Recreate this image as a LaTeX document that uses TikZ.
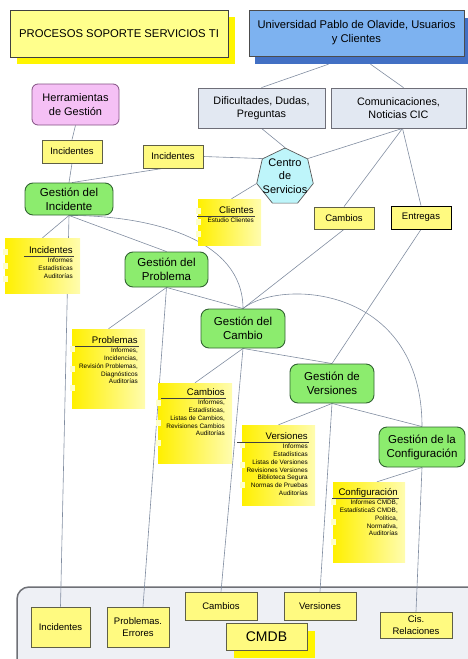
\documentclass[tikz,border=0pt]{standalone}
\usepackage{fontspec}
\setmainfont{Liberation Sans}
\usetikzlibrary{shapes.geometric}
\pgfdeclarelayer{back}
\pgfsetlayers{back,main}

\definecolor{lnc}{RGB}{128,140,160}
\definecolor{yfill}{RGB}{255,250,128}
\definecolor{ydraw}{RGB}{95,95,70}
\definecolor{gfill}{RGB}{140,236,110}
\definecolor{gdraw}{RGB}{50,100,50}
\definecolor{pfill}{RGB}{245,192,245}
\definecolor{pdraw}{RGB}{130,80,130}
\definecolor{bfill}{RGB}{226,232,242}
\definecolor{bdraw}{RGB}{110,110,120}
\definecolor{ufill}{RGB}{125,178,240}
\definecolor{ushadow}{RGB}{66,112,196}
\definecolor{tfill}{RGB}{255,255,140}
\definecolor{tshadow}{RGB}{255,245,0}
\definecolor{cfill}{RGB}{190,245,250}
\definecolor{panelfill}{RGB}{238,240,245}
\definecolor{paneldraw}{RGB}{110,112,118}
\definecolor{nleft}{RGB}{255,240,0}
\definecolor{nright}{RGB}{255,252,175}
\definecolor{holec}{RGB}{255,255,200}

\newcommand\fsz[2]{\fontsize{#1}{#2}\selectfont}

% yellow memo sheet: name, x1, y1, x2, y2, header baseline, header, body lines, rule start
\newcommand\notepad[9]{%
  \node[notebg, minimum width={#4-#2}, minimum height={#5-#3}] (#1) at ({(#2+#4)/2},{(#3+#5)/2}) {};
  \foreach \f in {0.25,0.5,0.75}
    \fill[holec] ({#2-2},{#3+\f*(#5-#3)-3}) rectangle ++(5,6);
  \node[notehead, anchor=base east] (#1h) at ({#4-7},#6) {#7};
  \draw[noterule] (#9,{#6+3}) -- ({#4-6},{#6+3});
  \node[notebody, anchor=north east] (#1b) at ({#4-7},{#6+4.5}) {#8};
}

\tikzset{
  conn/.style={draw=lnc, line width=0.6pt},
  box/.style={draw=ydraw, fill=yfill, line width=0.8pt, inner sep=1pt, align=center, font=\fsz{9.5}{12}},
  procbox/.style={draw=gdraw, fill=gfill, rounded corners=8pt, line width=0.9pt, inner sep=1pt, align=center, font=\fsz{11.5}{14}},
  toolbox/.style={draw=pdraw, fill=pfill, rounded corners=6pt, line width=0.8pt, inner sep=1pt, align=center, font=\fsz{11}{13.5}},
  infobox/.style={draw=bdraw, fill=bfill, line width=0.8pt, inner sep=1pt, align=center, font=\fsz{10.8}{13}},
  titlebox/.style={draw=black!75, fill=tfill, line width=0.8pt, inner sep=1pt, align=center, font=\fsz{11.3}{13}},
  univbox/.style={draw=black!70, fill=ufill, line width=0.8pt, inner sep=1pt, align=center, font=\fsz{11.2}{14}},
  shadowbox/.style={inner sep=0pt, draw=none},
  notebg/.style={inner sep=0pt, draw=none, left color=nleft, right color=nright},
  notehead/.style={inner sep=0pt, font=\fsz{9.6}{11}},
  notebody/.style={inner sep=0pt, align=right, font=\fsz{6.4}{7.9}},
  noterule/.style={draw=black!75, line width=0.6pt},
}

\begin{document}
\begin{tikzpicture}[x=1pt,y=-1pt]
\useasboundingbox (0,0) rectangle (468,659);

% ---- header boxes ----
\node[shadowbox, fill=tshadow, minimum width=218, minimum height=47] (titlesh) at (126,40.5) {};
\node[titlebox, minimum width=218, minimum height=47] (title) at (119,33.5) {PROCESOS SOPORTE SERVICIOS TI};
\node[shadowbox, fill=ushadow, minimum width=215, minimum height=46] (univsh) at (362.5,41) {};
\node[univbox, minimum width=215, minimum height=46] (univ) at (356.5,33) {Universidad Pablo de Olavide, Usuarios\\y Clientes};

\node[toolbox, minimum width=87, minimum height=41] (herr) at (75.5,104.5) {Herramientas\\de Gestión};
\node[infobox, minimum width=127, minimum height=40] (dif) at (261.5,108) {Dificultades, Dudas,\\Preguntas};
\node[infobox, minimum width=135, minimum height=40] (com) at (398.5,108) {Comunicaciones,\\Noticias CIC};

% ---- service desk ----
\node[regular polygon, regular polygon sides=7, minimum size=58, inner sep=0pt,
      draw=black!65, fill=cfill, line width=0.7pt] (centro) at (285,177) {};
\node[inner sep=0pt, align=center, font=\fsz{11}{13.5}] (centrolbl) at (285,176) {Centro\\de\\Servicios};

% ---- small flow labels ----
\node[box, minimum width=60, minimum height=23] (inc1) at (72,151.5) {Incidentes};
\node[box, minimum width=60, minimum height=23] (inc2) at (173,156.5) {Incidentes};
\node[box, minimum width=60, minimum height=22] (cambS) at (344,218) {Cambios};
\node[box, draw=black, minimum width=60, minimum height=23] (entr) at (421,217.5) {Entregas};

% ---- management processes ----
\node[procbox, minimum width=88, minimum height=32] (gi) at (69,199) {Gestión del\\Incidente};
\node[procbox, minimum width=83, minimum height=35] (gp) at (166.5,269.5) {Gestión del\\Problema};
\node[procbox, minimum width=84, minimum height=39] (gc) at (243,328.5) {Gestión del\\Cambio};
\node[procbox, minimum width=84, minimum height=39] (gv) at (332,383.5) {Gestión de\\Versiones};
\node[procbox, minimum width=86, minimum height=40] (gconf) at (422,447) {Gestión de la\\Configuración};

% ---- memo sheets ----
\notepad{clN}{198}{199}{261}{245}{213}{Clientes}{Estudio Clientes}{197}
\notepad{incN}{5}{238}{80}{293}{253}{Incidentes}{Informes\\Estadísticas\\Auditorías}{24}
\notepad{probN}{72}{329}{145}{408}{343}{Problemas}{Informes,\\Incidencias,\\Revisión Problemas,\\Diagnósticos\\Auditorías}{75}
\notepad{cambN}{158}{383}{232}{463}{395}{Cambios}{Informes,\\Estadísticas,\\Listas de Cambios,\\Revisiones Cambios\\Auditorías}{161}
\notepad{versN}{242}{425}{315}{505}{439}{Versiones}{Informes\\Estadísticas\\Listas de Versiones\\Revisiones Versiones\\Biblioteca Segura\\Normas de Pruebas\\Auditorías}{237}
\notepad{confN}{333}{482}{405}{562}{495}{Configuración}{Informes CMDB,\\EstadísticaS CMDB,\\Política,\\Normativa,\\Auditorías}{332}

% ---- CMDB contents ----
\node[box, minimum width=59, minimum height=40] (bInc) at (60.5,627) {Incidentes};
\node[box, minimum width=62, minimum height=40] (bProb) at (138,627) {Problemas.\\Errores};
\node[box, minimum width=72, minimum height=28] (bCamb) at (221,606) {Cambios};
\node[box, minimum width=72, minimum height=28] (bVers) at (320,606) {Versiones};
\node[shadowbox, fill=tshadow, minimum width=81, minimum height=27] (cmdbsh) at (274.5,644.5) {};
\node[box, minimum width=81, minimum height=27, font=\fsz{14}{16}] (cmdb) at (266.5,636.5) {CMDB};
\node[box, minimum width=72, minimum height=26] (bCis) at (416,625) {Cis.\\Relaciones};

\begin{pgfonlayer}{back}
  % CMDB panel
  \begin{scope}
    \clip (0,0) rectangle (468,659);
    \draw[fill=panelfill, draw=paneldraw, line width=1.5pt, rounded corners=12pt] (17,587) rectangle (495,700);
  \end{scope}

  % connectors
  \draw[conn] ([xshift=-34pt]univsh.south) -- (dif.north);
  \draw[conn] ([xshift=8pt]univsh.south) -- ([xshift=5pt]com.north);
  \draw[conn] (herr.south) -- (inc1.north);
  \draw[conn] (inc1.south) -- (gi.north);
  \draw[conn] ([xshift=-10pt]inc2.south) -- ([xshift=3pt]gi.north);
  \draw[conn] (inc2.east) -- (centro.141);
  \draw[conn] (dif.south) -- (centro.90);
  \draw[conn] ([xshift=4pt]com.south) -- (centro.39);
  \draw[conn] ([xshift=4pt]com.south) -- (cambS.north);
  \draw[conn] ([xshift=4pt]com.south) -- (entr.north);
  \draw[conn] (centro.193) -- ([xshift=2pt]clN.north);

  \draw[conn] (gi.south) -- (incN.north);
  \draw[conn] (gi.south) -- (bInc.north);
  \draw[conn] (gi.south) -- (gp.north);
  \draw[conn] (gi.south) .. controls +(81,0) and +(0,-70) .. (gc.north);

  \draw[conn] (gp.south) -- (probN.north);
  \draw[conn] (gp.south) -- ([xshift=5pt]bProb.north);
  \draw[conn] (gp.south) -- (gc.north);

  \draw[conn] (cambS.south) -- (gc.north);
  \draw[conn] (gc.north) .. controls +(37,-30) and +(0,-142) .. (gconf.north);
  \draw[conn] (entr.south) -- (gv.north);

  \draw[conn] (gc.south) -- (cambN.north);
  \draw[conn] (gc.south) -- (bCamb.north);
  \draw[conn] (gc.south) -- (gv.north);

  \draw[conn] (gv.south) -- (versN.north);
  \draw[conn] (gv.south) -- (bVers.north);
  \draw[conn] (gv.south) -- (gconf.north);

  \draw[conn] (gconf.south) -- ([xshift=8pt]confN.north);
  \draw[conn] (gconf.south) -- (bCis.north);
\end{pgfonlayer}
\end{tikzpicture}
\end{document}
